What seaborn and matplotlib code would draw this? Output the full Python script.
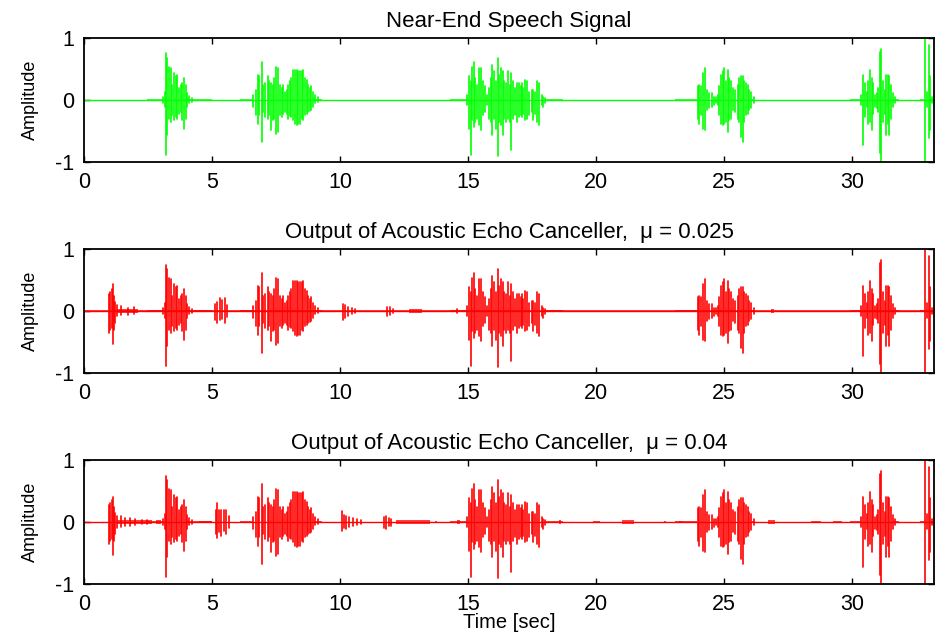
import matplotlib
matplotlib.use("Agg")
import matplotlib.pyplot as plt
import seaborn as sns
import pandas as pd

# ---------------- data ----------------
T_MAX = 33.2

# near-end speech: spike times (s), positive peaks, negative peaks
near_t = [3.10, 3.15, 3.20, 3.25, 3.33, 3.39, 3.45, 3.51, 3.58, 3.65, 3.71, 3.78, 3.84, 3.91, 3.97, 4.03, 4.11, 4.20,
          6.61, 6.71, 6.78, 6.84, 6.94, 7.00, 7.07, 7.17, 7.24, 7.30, 7.37, 7.43, 7.50, 7.59, 7.66, 7.72, 7.79, 7.85,
          7.91, 7.98, 8.04, 8.09, 8.18, 8.24, 8.31, 8.37, 8.44, 8.50, 8.57, 8.63, 8.70, 8.76, 8.82, 8.87, 8.96, 9.02, 9.15,
          14.95, 15.05, 15.10, 15.17, 15.22, 15.29, 15.36, 15.44, 15.51, 15.57, 15.65, 15.73, 15.82, 15.89, 15.95,
          16.02, 16.10, 16.16, 16.22, 16.29, 16.36, 16.42, 16.49, 16.55, 16.62, 16.69, 16.77, 16.85, 16.93, 17.00,
          17.05, 17.10, 17.16, 17.24, 17.32, 17.40, 17.49, 17.55, 17.63, 17.71, 17.79, 17.88, 17.94, 18.01,
          23.97, 24.04, 24.11, 24.19, 24.27, 24.35, 24.43, 24.51, 24.59, 24.67, 24.75, 24.82, 24.88, 24.95, 25.01,
          25.08, 25.14, 25.21, 25.27, 25.36, 25.44, 25.53, 25.60, 25.66, 25.73, 25.79, 25.86, 25.92, 25.99, 26.05, 26.15,
          30.35, 30.43, 30.50, 30.57, 30.64, 30.70, 30.77, 30.83, 30.90, 30.96, 31.02, 31.08, 31.14, 31.21, 31.27,
          31.33, 31.39, 31.46, 31.52, 31.58, 31.68,
          32.86, 32.92, 32.99, 33.05, 33.12]
near_top = [0.05, 0.13, 0.75, 0.67, 0.54, 0.51, 0.24, 0.43, 0.38, 0.40, 0.19, 0.24, 0.27, 0.35, 0.24, 0.11, 0.06, 0.04,
            0.08, 0.16, 0.40, 0.38, 0.62, 0.24, 0.27, 0.38, 0.30, 0.27, 0.24, 0.36, 0.54, 0.51, 0.24, 0.19, 0.24, 0.13,
            0.16, 0.24, 0.30, 0.35, 0.48, 0.48, 0.48, 0.46, 0.46, 0.47, 0.48, 0.35, 0.32, 0.24, 0.20, 0.22, 0.13, 0.08, 0.05,
            0.08, 0.38, 0.30, 0.54, 0.62, 0.35, 0.24, 0.51, 0.51, 0.30, 0.22, 0.08, 0.19, 0.35, 0.56,
            0.46, 0.30, 0.67, 0.40, 0.51, 0.46, 0.30, 0.27, 0.46, 0.24, 0.43, 0.30, 0.19, 0.27, 0.27,
            0.22, 0.27, 0.19, 0.32, 0.30, 0.13, 0.16, 0.16, 0.13, 0.30, 0.27, 0.08, 0.05, 0.04,
            0.22, 0.24, 0.22, 0.43, 0.52, 0.16, 0.11, 0.11, 0.05, 0.05, 0.08, 0.22, 0.40, 0.46, 0.51,
            0.30, 0.48, 0.35, 0.30, 0.19, 0.16, 0.24, 0.35, 0.38, 0.38, 0.30, 0.27, 0.24, 0.16, 0.13, 0.05,
            0.08, 0.40, 0.27, 0.13, 0.30, 0.48, 0.35, 0.27, 0.08, 0.11, 0.19, 0.78, 0.83, 0.30, 0.16,
            0.40, 0.40, 0.38, 0.24, 0.11, 0.05,
            1.05, 0.13, 0.89, 0.38, 0.05]
near_bot = [-0.05, -0.11, -0.89, -0.56, -0.30, -0.35, -0.24, -0.32, -0.27, -0.30, -0.22, -0.19, -0.32, -0.46, -0.30, -0.11, -0.05, -0.03,
            -0.11, -0.24, -0.39, -0.24, -0.67, -0.19, -0.28, -0.30, -0.24, -0.48, -0.32, -0.30, -0.55, -0.51, -0.24, -0.27, -0.22, -0.19,
            -0.22, -0.30, -0.25, -0.27, -0.32, -0.38, -0.40, -0.38, -0.38, -0.30, -0.32, -0.24, -0.22, -0.19, -0.18, -0.16, -0.11, -0.05, -0.03,
            -0.08, -0.46, -0.89, -0.32, -0.43, -0.35, -0.30, -0.40, -0.48, -0.24, -0.19, -0.08, -0.30, -0.35, -0.56,
            -0.30, -0.46, -0.91, -0.35, -0.40, -0.56, -0.30, -0.35, -0.30, -0.35, -0.81, -0.30, -0.24, -0.35, -0.27,
            -0.24, -0.27, -0.22, -0.32, -0.30, -0.24, -0.20, -0.32, -0.22, -0.35, -0.40, -0.08, -0.11, -0.05,
            -0.30, -0.38, -0.24, -0.46, -0.48, -0.16, -0.13, -0.11, -0.08, -0.05, -0.08, -0.24, -0.38, -0.40, -0.38,
            -0.35, -0.51, -0.32, -0.30, -0.16, -0.19, -0.30, -0.35, -0.59, -0.68, -0.35, -0.24, -0.22, -0.16, -0.13, -0.05,
            -0.08, -0.73, -0.27, -0.11, -0.38, -0.35, -0.48, -0.22, -0.11, -0.13, -0.19, -0.86, -1.02, -0.35, -0.22,
            -0.56, -0.38, -0.56, -0.30, -0.11, -0.05,
            -1.05, -0.11, -0.62, -0.48, -0.05]

# low-level segments of the near-end signal: start, end, half-height
near_noise_start = [2.45, 4.00, 6.10, 9.00, 14.30, 18.00, 23.10, 26.10, 29.90, 31.60, 32.65, 33.05]
near_noise_end = [3.10, 5.00, 6.60, 9.30, 14.95, 18.72, 23.95, 26.20, 30.35, 31.82, 32.85, 33.20]
near_noise_amp = [0.02, 0.02, 0.02, 0.02, 0.02, 0.02, 0.02, 0.02, 0.02, 0.02, 0.02, 0.02]

# residual echo, mu = 0.025
r025_t = [0.98, 1.03, 1.08, 1.13, 1.18, 1.23, 1.30, 1.45, 1.70, 1.95,
          5.12, 5.20, 5.30, 5.40, 5.50, 5.60,
          10.12, 10.20, 10.30, 10.45, 10.60,
          11.85, 11.95, 12.05, 14.55]
r025_top = [0.27, 0.30, 0.36, 0.43, 0.25, 0.15, 0.10, 0.08, 0.05, 0.06,
            0.12, 0.14, 0.21, 0.18, 0.21, 0.10,
            0.11, 0.09, 0.06, 0.05, 0.04,
            0.07, 0.06, 0.04, 0.04]
r025_bot = [-0.36, -0.30, -0.28, -0.54, -0.30, -0.20, -0.08, -0.07, -0.06, -0.05,
            -0.15, -0.19, -0.15, -0.13, -0.19, -0.10,
            -0.14, -0.12, -0.08, -0.05, -0.04,
            -0.08, -0.06, -0.04, -0.03]
r025_noise_start = [0.0, 1.30, 12.70, 26.85]
r025_noise_end = [T_MAX, 2.10, 13.20, 26.95]
r025_noise_amp = [0.013, 0.04, 0.03, 0.03]

# residual echo, mu = 0.04
r04_t = [0.98, 1.03, 1.08, 1.13, 1.18, 1.23, 1.30, 1.45, 1.60, 1.80, 2.00, 2.25, 2.45,
         5.15, 5.20, 5.28, 5.35, 5.45, 5.55, 5.65,
         10.08, 10.15, 10.25, 10.35, 10.50, 10.65, 10.80,
         11.70, 11.80, 11.90, 12.00]
r04_top = [0.27, 0.30, 0.36, 0.41, 0.25, 0.15, 0.10, 0.09, 0.06, 0.07, 0.05, 0.04, 0.04,
           0.20, 0.31, 0.20, 0.20, 0.19, 0.20, 0.10,
           0.17, 0.12, 0.10, 0.08, 0.07, 0.05, 0.04,
           0.08, 0.10, 0.07, 0.05]
r04_bot = [-0.36, -0.30, -0.28, -0.54, -0.30, -0.20, -0.09, -0.08, -0.06, -0.06, -0.05, -0.04, -0.03,
           -0.20, -0.25, -0.16, -0.22, -0.15, -0.20, -0.10,
           -0.15, -0.10, -0.12, -0.08, -0.06, -0.05, -0.03,
           -0.10, -0.11, -0.07, -0.06]
r04_noise_start = [0.0, 1.30, 2.80, 4.50, 12.20, 13.70, 14.55, 18.55, 19.90, 21.00, 22.65, 23.25, 26.70, 28.40, 29.25]
r04_noise_end = [T_MAX, 2.65, 3.00, 5.00, 13.50, 13.80, 14.70, 18.65, 20.15, 21.50, 22.75, 23.35, 27.00, 28.80, 29.60]
r04_noise_amp = [0.008, 0.04, 0.03, 0.02, 0.035, 0.02, 0.03, 0.03, 0.02, 0.03, 0.02, 0.02, 0.03, 0.02, 0.02]

titles = ["Near-End Speech Signal",
          "Output of Acoustic Echo Canceller,  \u03bc = 0.025",
          "Output of Acoustic Echo Canceller,  \u03bc = 0.04"]
x_ticks = [0, 5, 10, 15, 20, 25, 30]
y_ticks = [-1, 0, 1]

# ---------------- drawing ----------------
sns.set_theme(style="ticks")
plt.rcParams["font.family"] = ["Liberation Sans", "DejaVu Sans"]
plt.rcParams["text.color"] = "black"
plt.rcParams["axes.labelcolor"] = "black"

GREEN = "#00FF00"
RED = "#FF0000"

fig = plt.figure(figsize=(9.35, 6.35), dpi=100)
W, H = 935.0, 635.0
left, right = 84, 934
tops = [38, 249, 460]
bottoms = [162, 373, 584]


def spike_frame(t, top, bot):
    rows = []
    for i, (ti, a, b) in enumerate(zip(t, top, bot)):
        rows.append((i, ti, a))
        rows.append((i, ti, b))
    return pd.DataFrame(rows, columns=["spike", "time", "amp"])


panels = [
    (near_t, near_top, near_bot, near_noise_start, near_noise_end, near_noise_amp, GREEN),
    (near_t + r025_t, near_top + r025_top, near_bot + r025_bot,
     near_noise_start + r025_noise_start, near_noise_end + r025_noise_end, near_noise_amp + r025_noise_amp, RED),
    (near_t + r04_t, near_top + r04_top, near_bot + r04_bot,
     near_noise_start + r04_noise_start, near_noise_end + r04_noise_end, near_noise_amp + r04_noise_amp, RED),
]

for k, (t, top, bot, ns, ne, na, col) in enumerate(panels):
    ax = fig.add_axes([left / W, 1 - bottoms[k] / H, (right - left) / W, (bottoms[k] - tops[k]) / H])
    base = pd.DataFrame({"time": [0.0, T_MAX], "amp": [0.0, 0.0]})
    sns.lineplot(data=base, x="time", y="amp", color=col, lw=1.0, ax=ax)
    for s, e, a in zip(ns, ne, na):
        ax.fill_between([s, e], [-a, -a], [a, a], color=col, lw=0, alpha=0.75 if a > 0.01 else 0.55)
    df = spike_frame(t, top, bot)
    sns.lineplot(data=df, x="time", y="amp", units="spike", estimator=None,
                 color=col, lw=1.2, ax=ax, sort=False)
    ax.set_xlim(0, T_MAX)
    ax.set_ylim(-1, 1)
    ax.set_xticks(x_ticks)
    ax.set_yticks(y_ticks)
    ax.set_yticklabels([str(v) for v in y_ticks])
    ax.tick_params(direction="in", top=True, right=True, length=4, width=1,
                   labelsize=15.5, pad=7, colors="black")
    for sp in ax.spines.values():
        sp.set_visible(True)
        sp.set_color("black")
        sp.set_linewidth(1.3)
    ax.set_title(titles[k], fontsize=16, pad=8, color="black")
    ax.set_ylabel("Amplitude", fontsize=13, labelpad=12, color="black")
    ax.set_xlabel("Time [sec]" if k == 2 else "", fontsize=14.5, labelpad=-1, color="black")
    ax.set_facecolor("white")
    ax.grid(False)

fig.savefig("out.png", dpi=100, facecolor="white")
